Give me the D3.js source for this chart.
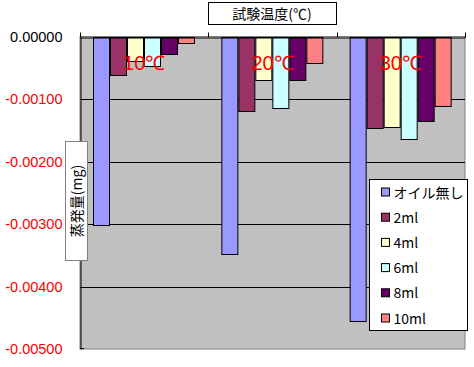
<!DOCTYPE html>
<html>
<head>
<meta charset="utf-8">
<script src="https://cdn.jsdelivr.net/npm/d3@7"></script>
<style>
  body { margin: 0; background: #fff; }
  svg { display: block; }
</style>
</head>
<body>
<div id="chart"></div>
<script>
var width  = 474;
var height = 367;

// Data
var categories = ["10℃", "20℃", "30℃"];
var series = ["オイル無し", "2ml", "4ml", "6ml", "8ml", "10ml"];
var colors = ["#9999FF", "#993366", "#FFFFCC", "#CCFFFF", "#660066", "#FF8080"];
// values per category, in series order
var values10 = [-0.00300, -0.00060, -0.00038, -0.00046, -0.00028, -0.00009];
var values20 = [-0.00347, -0.00118, -0.00068, -0.00113, -0.00068, -0.00041];
var values30 = [-0.00454, -0.00145, -0.00144, -0.00163, -0.00134, -0.00110];
var yTicks = [0, -0.001, -0.002, -0.003, -0.004, -0.005];

var allValues = [values10, values20, values30];

var plot = { left: 80, right: 465, top: 36.5, bottom: 349 };

var x0 = d3.scaleBand()
           .domain(categories)
           .range([plot.left, plot.right]);

var x1 = d3.scaleBand()
           .domain(series)
           .range([0, x0.bandwidth()])
           .paddingOuter(0.77);

var y = d3.scaleLinear()
          .domain([-0.005, 0])
          .range([plot.bottom, plot.top]);

var color = d3.scaleOrdinal().domain(series).range(colors);

var svg = d3.select('#chart')
            .append('svg')
            .attr('width', width)
            .attr('height', height);

// Plot area background
svg.append('rect')
   .attr('x', plot.left)
   .attr('y', plot.top)
   .attr('width', plot.right - plot.left)
   .attr('height', plot.bottom - plot.top)
   .style('fill', '#C0C0C0')
   .style('stroke', '#808080')
   .style('stroke-width', 1);

// Gridlines
svg.append('g')
   .selectAll('line')
   .data(yTicks.filter(function(d) { return d < 0 && d > -0.005; }))
   .enter()
   .append('line')
   .attr('x1', plot.left)
   .attr('x2', plot.right)
   .attr('y1', function(d) { return Math.round(y(d)) + 0.5; })
   .attr('y2', function(d) { return Math.round(y(d)) + 0.5; })
   .style('stroke', '#000')
   .style('stroke-width', 1);

// Bars
var groups = svg.append('g')
   .selectAll('g')
   .data(categories)
   .enter()
   .append('g')
   .attr('transform', function(d) { return 'translate(' + x0(d) + ',0)'; });

groups.selectAll('rect')
   .data(function(d, i) {
     return series.map(function(s, j) { return { key: s, value: allValues[i][j] }; });
   })
   .enter()
   .append('rect')
   .attr('x', function(d) { return Math.round(x1(d.key)) + 0.5; })
   .attr('y', Math.round(y(0)) + 0.5)
   .attr('width', Math.round(x1.bandwidth()) - 1)
   .attr('height', function(d) { return Math.round(y(d.value) - y(0)); })
   .style('fill', function(d) { return color(d.key); })
   .style('stroke', '#000')
   .style('stroke-width', 1);

// Zero line (category axis) with ticks upward
var xAxis = d3.axisTop(x0).tickSize(0).tickFormat('');
var xg = svg.append('g')
   .attr('transform', 'translate(0,' + (Math.round(y(0)) + 0.5) + ')')
   .call(xAxis);
xg.select('.domain').style('stroke', '#000');
xg.selectAll('.boundary')
   .data(categories.map(function(c) { return x0(c); }).concat([plot.right]))
   .enter()
   .append('line')
   .attr('x1', function(d) { return Math.round(d) + 0.5; })
   .attr('x2', function(d) { return Math.round(d) + 0.5; })
   .attr('y1', 0)
   .attr('y2', -5)
   .style('stroke', '#000');

// Value axis
var yAxis = d3.axisLeft(y)
              .tickValues(yTicks)
              .tickSize(0)
              .tickPadding(18)
              .tickFormat(d3.format('.5f'));
var yg = svg.append('g')
   .attr('transform', 'translate(' + (plot.left + 0.5) + ',0)')
   .call(yAxis);
yg.select('.domain').style('stroke', '#000');
yg.selectAll('text')
   .style('font-family', '"Liberation Sans", Arial, sans-serif')
   .style('font-size', '14.5px')
   .style('fill', function(d) { return d < 0 ? '#FF0000' : '#000'; })
   .text(function(d) { return d < 0 ? '-' + d3.format('.5f')(-d) : d3.format('.5f')(d); });
svg.append('line')
   .attr('x1', plot.left).attr('x2', plot.left + 4)
   .attr('y1', plot.bottom - 0.5).attr('y2', plot.bottom - 0.5)
   .style('stroke', '#000');

// Category labels inside the plot
svg.append('g')
   .selectAll('text')
   .data(categories)
   .enter()
   .append('text')
   .attr('x', function(d) { return x0(d) + x0.bandwidth() / 2; })
   .attr('y', 70)
   .attr('text-anchor', 'middle')
   .style('font-family', '"Liberation Sans", Arial, sans-serif')
   .style('font-size', '20px')
   .style('fill', '#FF0000')
   .text(function(d) { return d; });

// Title box
svg.append('rect')
   .attr('x', 208.5).attr('y', 2.5)
   .attr('width', 128).attr('height', 22)
   .style('fill', '#fff').style('stroke', '#000');
svg.append('text')
   .attr('x', 272).attr('y', 19)
   .attr('text-anchor', 'middle')
   .style('font-family', '"Noto Sans CJK JP", sans-serif')
   .style('font-size', '14px')
   .text('試験温度(℃)');

// Y title box
svg.append('rect')
   .attr('x', 65.5).attr('y', 141.5)
   .attr('width', 22).attr('height', 119)
   .style('fill', '#fff').style('stroke', '#808080');
svg.append('text')
   .attr('transform', 'translate(82,201)rotate(-90)')
   .attr('text-anchor', 'middle')
   .style('font-family', '"Noto Sans CJK JP", sans-serif')
   .style('font-size', '14px')
   .text('蒸発量(mg)');

// Legend
var legend = svg.append('g').attr('transform', 'translate(369.5,179.5)');
legend.append('rect')
   .attr('width', 98).attr('height', 151)
   .style('fill', '#fff').style('stroke', '#000');
var items = legend.selectAll('.item')
   .data(series)
   .enter()
   .append('g')
   .attr('class', 'item')
   .attr('transform', function(d, i) { return 'translate(12,' + (12.5 + i * 25.2) + ')'; });
items.append('rect')
   .attr('x', 0).attr('y', -4)
   .attr('width', 8).attr('height', 8)
   .style('fill', function(d) { return color(d); })
   .style('stroke', '#000');
items.append('text')
   .attr('x', 12).attr('y', 5.5)
   .style('font-family', '"Noto Sans CJK JP", sans-serif')
   .style('font-size', '14px')
   .text(function(d) { return d; });
</script>
</body>
</html>
